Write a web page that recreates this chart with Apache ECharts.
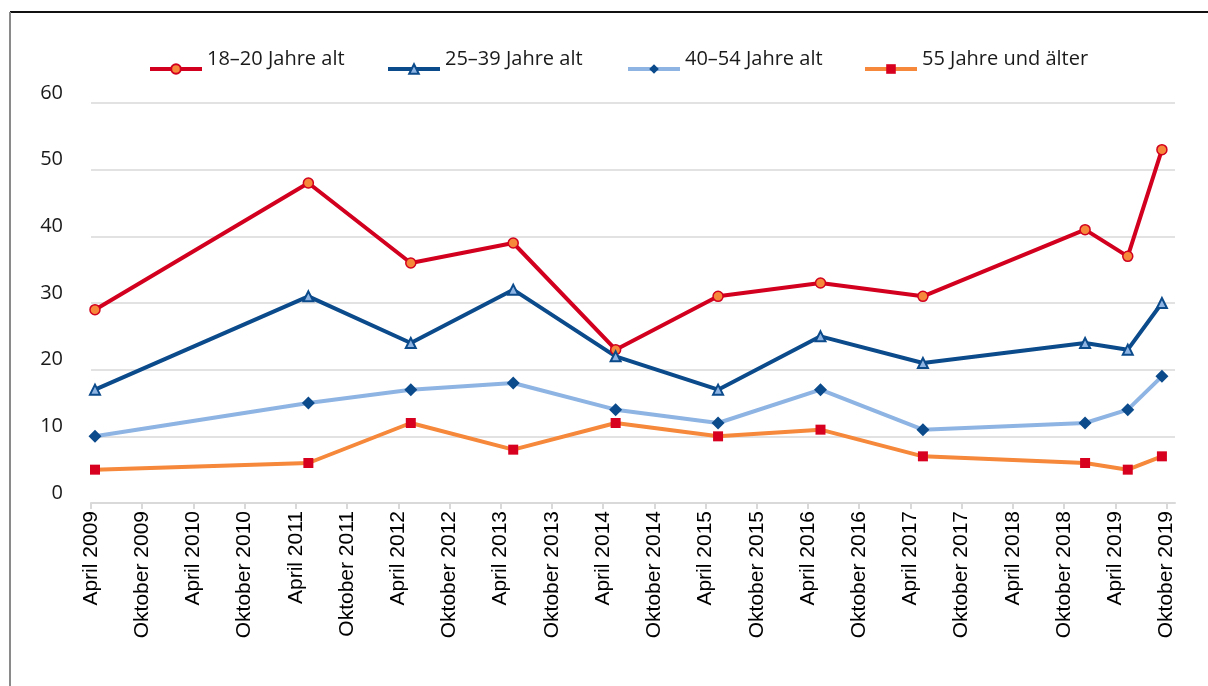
<!DOCTYPE html>
<html>
<head>
<meta charset="utf-8">
<script src="https://cdn.jsdelivr.net/npm/echarts@6/dist/echarts.min.js"></script>
<style>
  html, body { margin: 0; padding: 0; background: #fff; }
  #main { width: 1208px; height: 686px; }
</style>
</head>
<body>
<div id="main"></div>
<script>
// Erhebungszeitpunkte
var surveyDates = ['2009-04-15', '2011-05-15', '2012-05-15', '2013-05-15', '2014-05-15',
    '2015-05-15', '2016-05-15', '2017-05-15', '2018-12-15', '2019-05-15', '2019-09-15'];
// Werte je Altersgruppe
var seriesNames = ['18–20 Jahre alt', '25–39 Jahre alt', '40–54 Jahre alt', '55 Jahre und älter'];
var age18to20 = [29, 48, 36, 39, 23, 31, 33, 31, 41, 37, 53];
var age25to39 = [17, 31, 24, 32, 22, 17, 25, 21, 24, 23, 30];
var age40to54 = [10, 15, 17, 18, 14, 12, 17, 11, 12, 14, 19];
var age55plus = [5, 6, 12, 8, 12, 10, 11, 7, 6, 5, 7];
// Achsenbeschriftung (halbjährlich ab April 2009)
var tickLabels = ['April 2009', 'Oktober 2009', 'April 2010', 'Oktober 2010', 'April 2011', 'Oktober 2011',
    'April 2012', 'Oktober 2012', 'April 2013', 'Oktober 2013', 'April 2014', 'Oktober 2014',
    'April 2015', 'Oktober 2015', 'April 2016', 'Oktober 2016', 'April 2017', 'Oktober 2017',
    'April 2018', 'Oktober 2018', 'April 2019', 'Oktober 2019'];

// Monate seit April 2009
function toMonths(s) {
    var p = s.split('-');
    return (Number(p[0]) - 2009) * 12 + (Number(p[1]) - 4) + (Number(p[2]) - 1) / 30;
}
var xMonths = surveyDates.map(toMonths);
var tickValues = tickLabels.map(function (l, i) { return i * 6; });

function pairs(vals) {
    return vals.map(function (v, i) { return [xMonths[i], v]; });
}

var RED = '#D2001E', DARK = '#0B4A8B', LIGHT = '#8EB4E3', ORANGE = '#F5883A';

var chart = echarts.init(document.getElementById('main'));

function legendFor(name, left) {
    return {
        data: [name],
        left: left,
        top: 49,
        itemWidth: 52,
        itemHeight: 12,
        itemGap: 0,
        padding: 0,
        lineStyle: { width: 4 },
        formatter: '{t|{name}}',
        textStyle: {
            rich: {
                t: {
                    fontFamily: 'Open Sans',
                    fontSize: 20,
                    color: '#1a1a1a',
                    lineHeight: 40,
                    verticalAlign: 'top'
                }
            }
        }
    };
}

var option = {
    animation: false,
    backgroundColor: '#fff',
    graphic: [
        { type: 'line', shape: { x1: 10, y1: 12, x2: 1208, y2: 12 }, style: { stroke: '#111', lineWidth: 2 } },
        { type: 'line', shape: { x1: 10, y1: 12, x2: 10, y2: 686 }, style: { stroke: '#8a8a8a', lineWidth: 2 } }
    ],
    legend: [
        legendFor(seriesNames[0], 148),
        legendFor(seriesNames[1], 386),
        legendFor(seriesNames[2], 626),
        legendFor(seriesNames[3], 863)
    ],
    grid: {
        left: 91,
        right: 33,
        top: 103,
        bottom: 183
    },
    xAxis: {
        type: 'value',
        min: 0,
        max: 127,
        interval: 6,
        axisLine: { lineStyle: { color: '#d9d9d9', width: 2 } },
        axisTick: { length: 6, lineStyle: { color: '#d9d9d9', width: 2 }, customValues: tickValues },
        splitLine: { show: false },
        axisLabel: {
            customValues: tickValues,
            rotate: 90,
            margin: 8,
            fontFamily: 'Liberation Sans',
            fontSize: 21,
            color: '#000',
            formatter: function (v) { return tickLabels[Math.round(v / 6)] || ''; }
        }
    },
    yAxis: {
        type: 'value',
        min: 0,
        max: 60,
        interval: 10,
        axisLine: { show: false },
        axisTick: { show: false },
        splitLine: { lineStyle: { color: '#d9d9d9', width: 1.5 } },
        axisLabel: {
            margin: 28,
            fontFamily: 'Open Sans',
            fontSize: 20,
            color: '#1a1a1a',
            verticalAlign: 'bottom',
            lineHeight: 20
        }
    },
    series: [
        {
            name: seriesNames[0],
            type: 'line',
            data: pairs(age18to20),
            symbol: 'circle',
            symbolSize: 10,
            lineStyle: { color: RED, width: 4 },
            itemStyle: { color: ORANGE, borderColor: RED, borderWidth: 1.5 }
        },
        {
            name: seriesNames[1],
            type: 'line',
            data: pairs(age25to39),
            symbol: 'triangle',
            symbolSize: 10,
            lineStyle: { color: DARK, width: 4 },
            itemStyle: { color: LIGHT, borderColor: DARK, borderWidth: 2 }
        },
        {
            name: seriesNames[2],
            type: 'line',
            data: pairs(age40to54),
            symbol: 'diamond',
            symbolSize: 13,
            lineStyle: { color: LIGHT, width: 4 },
            itemStyle: { color: DARK }
        },
        {
            name: seriesNames[3],
            type: 'line',
            data: pairs(age55plus),
            symbol: 'rect',
            symbolSize: 10,
            lineStyle: { color: ORANGE, width: 4 },
            itemStyle: { color: '#D7001F' }
        }
    ]
};

chart.setOption(option);
</script>
</body>
</html>
